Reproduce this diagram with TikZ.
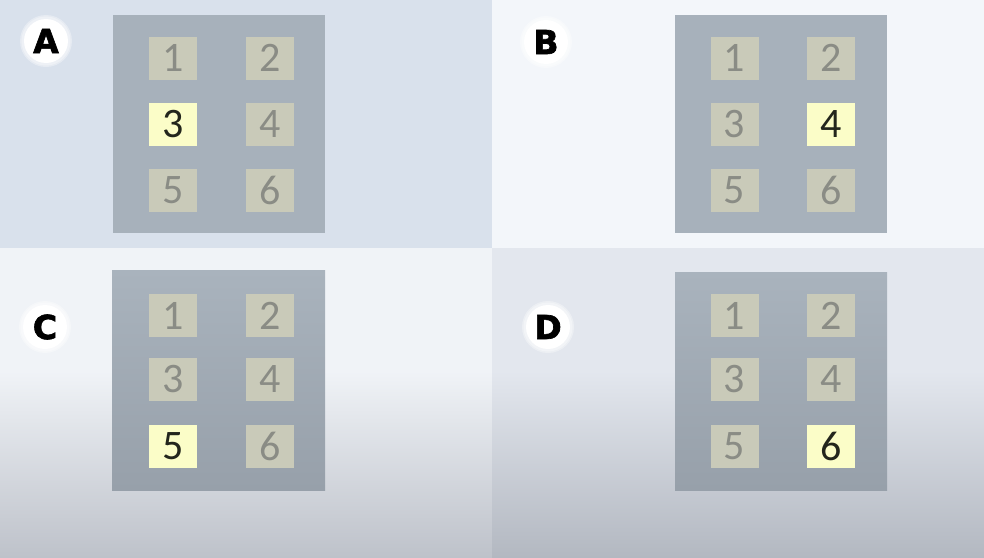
\documentclass[tikz,border=0pt]{standalone}
\usepackage{fontspec}
\newfontfamily\keyfont{Carlito}
\newfontfamily\labfont[FakeBold=2]{DejaVu Sans Bold}
\definecolor{bgA}{HTML}{D9E1EC}
\definecolor{bgB}{HTML}{F3F6FA}
\definecolor{bgCtop}{HTML}{F0F3F7}
\definecolor{bgCbot}{HTML}{BEC2CA}
\definecolor{bgDtop}{HTML}{E3E7EE}
\definecolor{bgDbot}{HTML}{B3B8C1}
\definecolor{padtop}{HTML}{A9B3BD}
\definecolor{padbot}{HTML}{97A0AA}
\definecolor{padflat}{HTML}{A7B1BB}
\definecolor{keyfill}{HTML}{C9CAB9}
\definecolor{keytext}{HTML}{8A8C85}
\definecolor{hifill}{HTML}{FBFDC8}
\definecolor{hitext}{HTML}{23261C}
\tikzset{
  keybox/.style={fill=keyfill, text=keytext, minimum width=48pt, minimum height=43pt,
    inner sep=0pt, font=\keyfont\fontsize{42}{42}\selectfont},
  hikey/.style={keybox, fill=hifill, text=hitext},
  labcirc/.style={circle, fill=white, minimum size=44pt, inner sep=0pt,
    font=\labfont\fontsize{33}{33}\selectfont, text=black},
  glow/.style={fill=white, opacity=0.35}
}
\begin{document}
\begin{tikzpicture}[x=1pt,y=-1pt]
\useasboundingbox (0,0) rectangle (984,557);
% backgrounds
\fill[bgA] (0,0) rectangle (492,248);
\fill[bgB] (492,0) rectangle (984,248);
\fill[bgCtop] (0,248) rectangle (492,372);
\shade[top color=bgCtop, bottom color=bgCbot] (0,371) rectangle (492,557);
\fill[bgDtop] (492,248) rectangle (984,372);
\shade[top color=bgDtop, bottom color=bgDbot] (492,371) rectangle (984,557);
% panels
\fill[padflat] (113,15) rectangle (325,233);
\fill[padflat] (675,15) rectangle (887,233);
\shade[top color=padtop, bottom color=padbot] (112,270) rectangle (325,490);
\shade[top color=padtop, bottom color=padbot] (675,272) rectangle (887,490);
% panel A keys
\node[keybox] (A1) at (173,58) {1};
\node[keybox] (A2) at (270,58) {2};
\node[hikey]  (A3) at (173,124) {3};
\node[keybox] (A4) at (270,124) {4};
\node[keybox] (A5) at (173,190) {5};
\node[keybox] (A6) at (270,190) {6};
% panel B keys
\node[keybox] (B1) at (734.5,58) {1};
\node[keybox] (B2) at (831,58) {2};
\node[keybox] (B3) at (734.5,124) {3};
\node[hikey]  (B4) at (831,124) {4};
\node[keybox] (B5) at (734.5,190) {5};
\node[keybox] (B6) at (831,190) {6};
% panel C keys
\node[keybox] (C1) at (173,315.5) {1};
\node[keybox] (C2) at (270,315.5) {2};
\node[keybox] (C3) at (173,379.5) {3};
\node[keybox] (C4) at (270,379.5) {4};
\node[hikey]  (C5) at (173,446.5) {5};
\node[keybox] (C6) at (270,446.5) {6};
% panel D keys
\node[keybox] (D1) at (734.5,315.5) {1};
\node[keybox] (D2) at (831,315.5) {2};
\node[keybox] (D3) at (734.5,379.5) {3};
\node[keybox] (D4) at (831,379.5) {4};
\node[keybox] (D5) at (734.5,446.5) {5};
\node[hikey]  (D6) at (831,446.5) {6};
% labels
\foreach \px/\py in {46/41, 546/42, 45/327, 548/327} {
  \fill[glow] (\px,\py) circle (26pt);
  \fill[glow] (\px,\py) circle (24.5pt);
}
\node[labcirc] (LA) at (46,41) {A};
\node[labcirc] (LB) at (546,42) {B};
\node[labcirc] (LC) at (45,327) {C};
\node[labcirc] (LD) at (548,327) {D};
\end{tikzpicture}
\end{document}
